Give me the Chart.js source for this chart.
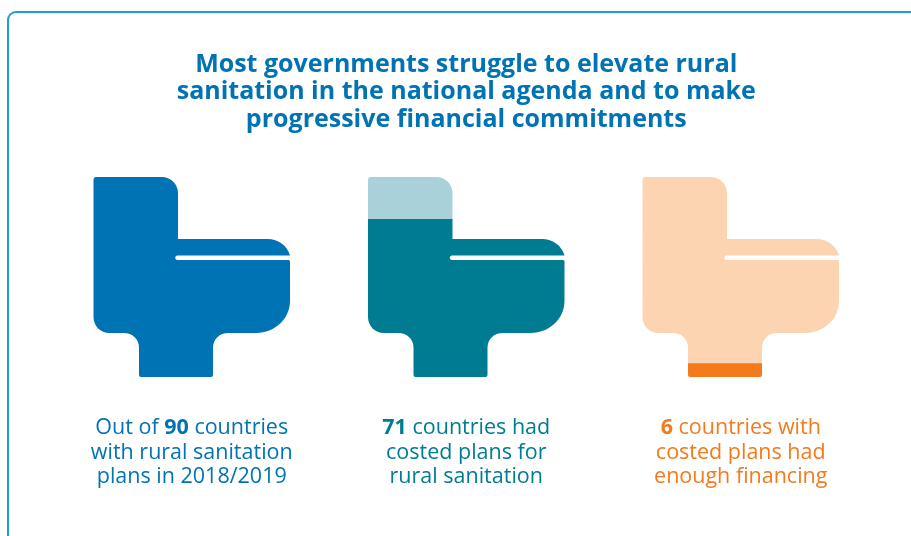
<!DOCTYPE html>
<html lang="en">
<head>
<meta charset="utf-8">
<title>Rural sanitation commitments</title>
<script src="https://cdn.jsdelivr.net/npm/chart.js@4"></script>
<style>
  html, body { margin: 0; padding: 0; background: #fff; width: 911px; height: 536px; overflow: hidden; }
  #panel { position: absolute; left: 7px; top: 11px; width: 1000px; height: 1000px; box-sizing: border-box;
           border: 2px solid #1c9fd8; border-radius: 9px; }
  canvas { position: absolute; left: 0; top: 0; }
</style>
</head>
<body>
<div id="panel"></div>
<canvas id="chart" width="911" height="536"></canvas>
<script>
// Chart data
const categories = ['Rural sanitation plans', 'Costed plans', 'Enough financing'];
const countries = [90, 71, 6];
const remainder = [0, 19, 84];
const solidColors = ['#0073b4', '#007c92', '#f47a1c'];
const paleColors = ['#a8d1da', '#a8d1da', '#fdd4b2'];
const titleLines = [
  'Most governments struggle to elevate rural',
  'sanitation in the national agenda and to make',
  'progressive financial commitments'
];
// Each caption line is [plain before, bold, plain after]
const captions = [
  [['Out of ', '90', ' countries'], ['with rural sanitation', '', ''], ['plans in 2018/2019', '', '']],
  [['', '71', ' countries had'], ['costed plans for', '', ''], ['rural sanitation', '', '']],
  [['', '6', ' countries with'], ['costed plans had', '', ''], ['enough financing', '', '']]
];
const captionColors = ['#0073b4', '#007c92', '#f47a1c'];

// Toilet outline, in a 196.5 x 200 box, seat slot included
function toiletPath(ctx, x, y, sx, sy) {
  const X = v => x + v * sx, Y = v => y + v * sy;
  ctx.moveTo(X(0), Y(3));
  ctx.quadraticCurveTo(X(0), Y(0), X(3), Y(0));
  ctx.lineTo(X(68), Y(0));
  ctx.bezierCurveTo(X(77.5), Y(0), X(84.5), Y(7), X(84.5), Y(16));
  ctx.lineTo(X(84.5), Y(62));
  ctx.lineTo(X(174), Y(62));
  ctx.bezierCurveTo(X(185), Y(62), X(194), Y(69), X(196.5), Y(78.5));
  ctx.lineTo(X(84), Y(78.5));
  ctx.bezierCurveTo(X(81), Y(78.5), X(81), Y(83), X(84), Y(83));
  ctx.lineTo(X(195), Y(83));
  ctx.quadraticCurveTo(X(196.5), Y(83), X(196.5), Y(84.5));
  ctx.lineTo(X(196.5), Y(124));
  ctx.bezierCurveTo(X(196.5), Y(142), X(181), Y(156), X(163), Y(156));
  ctx.lineTo(X(135), Y(156));
  ctx.bezierCurveTo(X(126), Y(156), X(119.5), Y(162), X(119.5), Y(171));
  ctx.lineTo(X(119.5), Y(198));
  ctx.quadraticCurveTo(X(119.5), Y(200), X(117.5), Y(200));
  ctx.lineTo(X(47.5), Y(200));
  ctx.quadraticCurveTo(X(45.5), Y(200), X(45.5), Y(198));
  ctx.lineTo(X(45.5), Y(171));
  ctx.bezierCurveTo(X(45.5), Y(162), X(39), Y(156), X(30), Y(156));
  ctx.lineTo(X(16), Y(156));
  ctx.bezierCurveTo(X(7), Y(156), X(0), Y(149), X(0), Y(140));
  ctx.closePath();
}

// Clips the stacked bars to one toilet silhouette per category
const toiletClip = {
  id: 'toiletClip',
  beforeDatasetsDraw(chart) {
    const { ctx, chartArea, scales } = chart;
    const width = 196.5;
    ctx.save();
    ctx.beginPath();
    categories.forEach((_, i) => {
      const left = scales.x.getPixelForValue(i) - width / 2;
      toiletPath(ctx, left, chartArea.top, 1, chartArea.height / 200);
    });
    ctx.clip();
  },
  afterDatasetsDraw(chart) {
    chart.ctx.restore();
  }
};

// Captions under each bar, with the count set in bold
const captionText = {
  id: 'captionText',
  afterDraw(chart) {
    const { ctx, scales, chartArea } = chart;
    const regular = '400 21.5px "Open Sans"';
    const bold = '700 21.5px "Open Sans"';
    ctx.save();
    ctx.textBaseline = 'alphabetic';
    ctx.textAlign = 'left';
    captions.forEach((lines, i) => {
      ctx.fillStyle = captionColors[i];
      const cx = scales.x.getPixelForValue(i);
      lines.forEach((parts, row) => {
        const y = chartArea.bottom + 57 + row * 24.5;
        const widths = parts.map((p, k) => {
          ctx.font = k === 1 ? bold : regular;
          return ctx.measureText(p).width;
        });
        let x = cx - (widths[0] + widths[1] + widths[2]) / 2;
        parts.forEach((p, k) => {
          ctx.font = k === 1 ? bold : regular;
          ctx.fillText(p, x, y);
          x += widths[k];
        });
      });
    });
    ctx.restore();
  }
};

new Chart(document.getElementById('chart'), {
  type: 'bar',
  data: {
    labels: categories,
    datasets: [
      { label: 'Countries', data: countries, backgroundColor: solidColors, borderWidth: 0, barThickness: 197 },
      { label: 'Remainder', data: remainder, backgroundColor: paleColors, borderWidth: 0, barThickness: 197 }
    ]
  },
  options: {
    responsive: false,
    animation: false,
    layout: { padding: { left: 54.5, right: 33, top: 0, bottom: 159 } },
    scales: {
      x: { display: false, stacked: true, grid: { display: false } },
      y: { display: false, stacked: true, min: 0, max: 90, grid: { display: false } }
    },
    plugins: {
      legend: { display: false },
      tooltip: { enabled: false },
      title: {
        display: true,
        fullSize: false,
        text: titleLines,
        color: '#0073b4',
        font: { family: '"Open Sans"', size: 25, weight: '700', lineHeight: 1.1 },
        padding: { top: 51, bottom: 43.5 }
      }
    }
  },
  plugins: [toiletClip, captionText]
});
</script>
</body>
</html>
